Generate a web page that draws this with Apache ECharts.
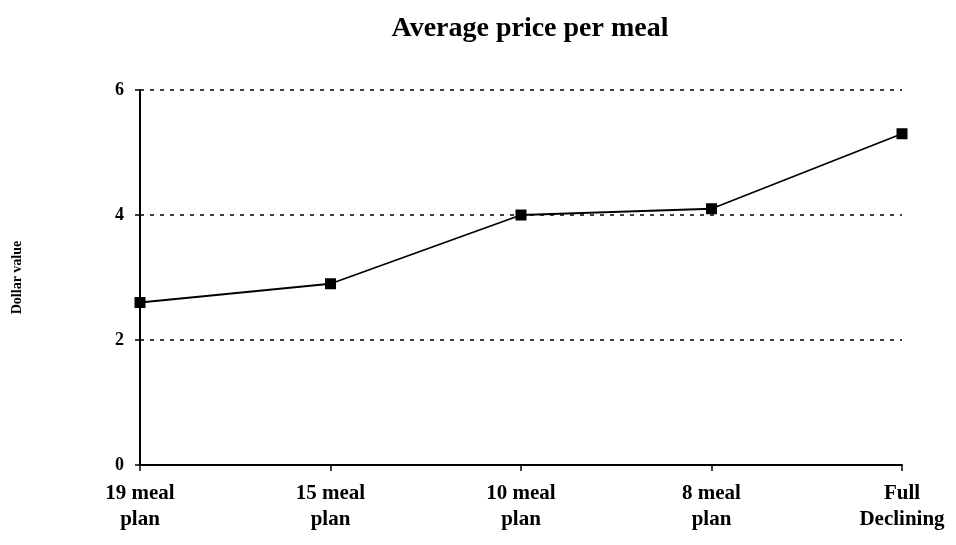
<!DOCTYPE html>
<html>
<head>
<meta charset="utf-8">
<script src="https://cdn.jsdelivr.net/npm/echarts@6/dist/echarts.min.js"></script>
<style>
html,body{margin:0;padding:0;background:#fff;}
#chart{width:956px;height:545px;}
</style>
</head>
<body>
<div id="chart"></div>
<script>
// data
var categories = ['19 meal\nplan', '15 meal\nplan', '10 meal\nplan', '8 meal\nplan', 'Full\nDeclining'];
var prices = [2.6, 2.9, 4.0, 4.1, 5.3];
var yTicks = [0, 2, 4, 6];

var myChart = echarts.init(document.getElementById('chart'));
var serif = '"Liberation Serif", "DejaVu Serif", serif';

option = {
    backgroundColor: '#fff',
    title: {
        text: 'Average price per meal',
        left: 525,
        top: 10,
        textAlign: 'center',
        textStyle: {fontFamily: serif, fontSize: 28, fontWeight: 'bold', color: '#000'}
    },
    grid: {left: 140, right: 54, top: 90, bottom: 80, containLabel: false},
    xAxis: {
        type: 'category',
        data: categories,
        boundaryGap: false,
        axisLine: {lineStyle: {color: '#000', width: 2}},
        axisTick: {show: true, length: 6, lineStyle: {color: '#000', width: 1.5}},
        axisLabel: {
            margin: 16,
            fontFamily: serif, fontSize: 21, fontWeight: 'bold', color: '#000', lineHeight: 26
        },
        splitLine: {show: false}
    },
    yAxis: {
        type: 'value',
        min: yTicks[0],
        max: yTicks[yTicks.length - 1],
        interval: 2,
        name: 'Dollar value',
        nameLocation: 'middle',
        nameGap: 116,
        nameRotate: 90,
        nameTextStyle: {fontFamily: serif, fontSize: 14, fontWeight: 'bold', color: '#000'},
        axisLine: {show: true, lineStyle: {color: '#000', width: 2}},
        axisTick: {show: true, length: 5, lineStyle: {color: '#000', width: 1.5}},
        axisLabel: {margin: 16, fontFamily: serif, fontSize: 18, fontWeight: 'bold', color: '#000'},
        splitLine: {show: true, lineStyle: {color: '#000', type: [4, 6], width: 1.5}}
    },
    series: [{
        name: 'Average price',
        type: 'line',
        data: prices,
        symbol: 'rect',
        symbolSize: 11,
        itemStyle: {color: '#000'},
        lineStyle: {color: '#000', width: 1.8},
        z: 5
    }]
};

myChart.setOption(option);
window.addEventListener('resize', function(){ myChart.resize(); });
</script>
</body>
</html>
